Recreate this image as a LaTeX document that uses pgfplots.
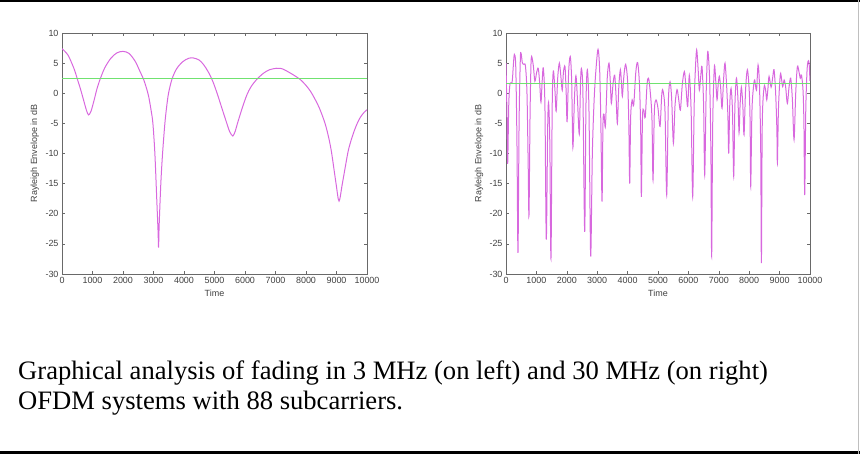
\documentclass[border=0pt]{standalone}
\usepackage{fontspec}
\setmainfont{Liberation Sans}
\newfontfamily\capfont{Liberation Serif}
\usepackage{pgfplots}
\pgfplotsset{compat=1.18}

\definecolor{fadecol}{RGB}{216,104,222}
\definecolor{meancol}{RGB}{112,226,112}
\definecolor{boxcol}{RGB}{105,105,105}

\pgfplotsset{
  fadeaxis/.style={
    scale only axis, width=305bp, height=241bp,
    anchor=south west,
    xmin=0, xmax=10000, ymin=-30, ymax=10,
    xtick={0,1000,...,10000}, ytick={-30,-25,...,10},
    scaled x ticks=false,
    /pgf/number format/1000 sep={},
    /pgf/number format/assume math mode=true,
    tick align=inside, major tick length=3bp,
    axis line style={boxcol, line width=0.8bp},
    tick style={boxcol, line width=0.6bp},
    tick label style={font=\fontsize{9}{10}\selectfont, text=black!75},
    label style={font=\fontsize{9}{10}\selectfont, text=black!75},
    xlabel={Time}, ylabel={Rayleigh Envelope in dB},
    x label style={at={(axis description cs:0.5,-0.079)}, anchor=center},
    y label style={at={(axis description cs:-0.089,0.5)}, anchor=center},
  }
}

\begin{document}
\begin{tikzpicture}
\path[use as bounding box] (0,0) rectangle (860bp,454bp);

% 3 MHz
\begin{axis}[fadeaxis, at={(62bp,180bp)}]
\addplot[fadecol, line width=1bp, smooth, tension=0.5] coordinates {
(0,7.4) (200,6.3) (400,4.0) (500,2.4) (600,0.8) (700,-1.0) (800,-2.8)
(870,-3.6) (950,-3.0) (1050,-1.2) (1150,0.8) (1255,2.4) (1400,4.2)
(1600,5.8) (1800,6.7) (2000,6.95) (2200,6.6) (2400,5.3) (2550,3.7)
(2675,2.3) (2760,1.0) (2840,-0.5) (2920,-2.8) (2980,-5) (3045,-10)
(3110,-18) (3150,-23) (3166,-25.6) (3185,-22) (3240,-15) (3297,-10)
(3373,-5) (3430,-2.3) (3493,0) (3603,2.3) (3750,4.0) (3950,5.2)
(4150,5.8) (4312,5.85) (4500,5.5) (4650,4.7) (4800,3.5) (4950,1.9)
(5098,-0.2) (5250,-2.6) (5404,-5) (5500,-6.4) (5600,-7.1)
(5680,-6.3) (5753,-5) (5900,-2.6) (6059,-0.3) (6200,1.1) (6386,2.3)
(6600,3.3) (6800,3.9) (7041,4.15) (7200,4.1) (7400,3.6) (7600,3.0)
(7806,2.3) (8000,1.3) (8150,0.3) (8297,-1.0) (8450,-2.6) (8624,-5)
(8750,-7.5) (8843,-10) (8985,-15) (9083,-17.9) (9192,-15) (9367,-10)
(9450,-8.3) (9550,-6.7) (9662,-5.2) (9780,-4.0) (9900,-3.2) (10000,-2.74)
};
\addplot[meancol, line width=1bp] coordinates {(0,2.4) (10000,2.4)};
\end{axis}

% 30 MHz
\begin{axis}[fadeaxis, at={(506bp,180bp)}, width=304bp]
\addplot[fadecol, line width=1bp, smooth, tension=0.5] coordinates {
(0,5.0) (30,-3) (55,-11.7) (90,-2) (130,1.5) (200,1.8) (240,4.5) (274,6.45)
(320,4.5) (360,-8) (394,-26.5) (430,-5) (470,5.5) (493,6.7) (540,5.0)
(590,4.8) (640,4.5) (690,0) (730,-12) (756,-20.3) (790,-4) (820,4.5)
(845,6.1) (900,4.5) (950,2.0) (1010,3.5) (1063,4.1) (1110,1.5) (1150,-1.5)
(1190,2.0) (1228,4.2) (1280,-2) (1325,-24.3) (1370,-6) (1400,-1.5)
(1440,-8) (1479,-27.5) (1520,-2) (1557,3.7) (1610,0.5) (1650,-3)
(1700,2.5) (1755,5.0) (1810,2.5) (1850,0.5) (1890,3.5) (1941,4.4)
(1980,0) (2010,-4.7) (2060,3.5) (2114,6.1) (2160,2) (2200,-9) (2250,-1)
(2300,2.9) (2350,-1) (2410,-6.8) (2450,1.5) (2480,4.1) (2530,0)
(2588,-23) (2630,-2) (2676,3.9) (2730,-3) (2785,-27) (2840,-10)
(2900,-1) (2960,4) (3027,7.3) (3080,4) (3120,-5) (3159,-18) (3190,-5)
(3224,-3.5) (3270,-5.5) (3330,2.5) (3388,5.0) (3430,2.0) (3465,-1.7)
(3520,1.5) (3575,3.0) (3620,-0.5) (3663,-5) (3710,1.0) (3762,3.9)
(3800,1.5) (3827,-0.5) (3880,3.0) (3937,4.8) (4000,2.0) (4040,-5)
(4069,-15) (4100,-4) (4150,-1.1) (4200,-2) (4270,3.5) (4330,5.1)
(4390,1.5) (4430,-6) (4453,-17.2) (4490,-4) (4530,-2.8) (4580,-4)
(4640,1.5) (4688,2.5) (4740,0.5) (4800,-4) (4836,-14.4) (4880,-3)
(4935,-1.1) (5000,-2.5) (5067,-5.5) (5120,-0.5) (5160,0.5) (5230,-3)
(5286,-16.9) (5340,-1.5) (5396,1.9) (5450,-1) (5506,-8.3) (5560,-2)
(5626,0.6) (5680,-1) (5736,-2.8) (5800,1.5) (5868,3.6) (5920,1.0)
(5976,-2.2) (6030,3.0) (6090,-3) (6141,-17.2) (6190,-2) (6230,4)
(6272,7.2) (6320,4) (6360,0.5) (6400,2.5) (6448,4.4) (6500,-2)
(6536,-13.6) (6580,-1) (6615,5) (6645,6.9) (6700,2) (6740,-10)
(6765,-27.1) (6800,-5) (6854,4.4) (6900,2) (6942,-1.1) (6980,1.5)
(7018,2.8) (7060,1) (7106,-2.5) (7160,2.5) (7205,5.0) (7260,1)
(7300,-4) (7326,-10) (7360,-2) (7403,0.8) (7450,-3) (7490,-13.8)
(7530,-2) (7580,2.5) (7630,-1) (7666,-6.6) (7700,-2) (7742,1.0)
(7790,-2) (7830,-6.9) (7880,0.5) (7940,3.9) (8000,0.5) (8030,-5)
(8050,-15.5) (8090,-3) (8140,1) (8181,2.2) (8240,0.5) (8291,4.7)
(8340,1) (8380,-10) (8401,-28.2) (8430,-5) (8489,1.0) (8540,0.5)
(8577,-1.1) (8620,1) (8653,2.8) (8720,1.0) (8770,2.5) (8817,3.9)
(8870,0) (8910,-6) (8927,-11.6) (8960,-3) (9000,1.5) (9036,3.3)
(9100,1.1) (9150,2.2) (9200,1.0) (9255,-1.7) (9310,1) (9365,2.5)
(9420,-1) (9475,-7.7) (9530,0) (9584,4.4) (9640,3.5) (9680,2.5)
(9720,3.0) (9770,0.5) (9800,-5) (9826,-16.9) (9860,-3) (9900,3.5)
(9935,5.3) (9970,5.0) (10000,2.0)
};
\addplot[meancol, line width=1bp] coordinates {(0,1.65) (10000,1.65)};
\end{axis}

% caption
\node[anchor=base west, inner sep=0, font=\capfont\fontsize{26.7}{31}\selectfont]
  at (18bp,74bp) {Graphical analysis of fading in 3 MHz (on left) and 30 MHz (on right)};
\node[anchor=base west, inner sep=0, font=\capfont\fontsize{26.7}{31}\selectfont]
  at (18bp,44bp) {OFDM systems with 88 subcarriers.};

% frame
\draw[black, line width=2bp] (0,453bp) -- (860bp,453bp);
\draw[black, line width=2bp] (0,1.5bp) -- (860bp,1.5bp);
\draw[black!25, line width=1bp] (858.5bp,0) -- (858.5bp,454bp);
\end{tikzpicture}
\end{document}
